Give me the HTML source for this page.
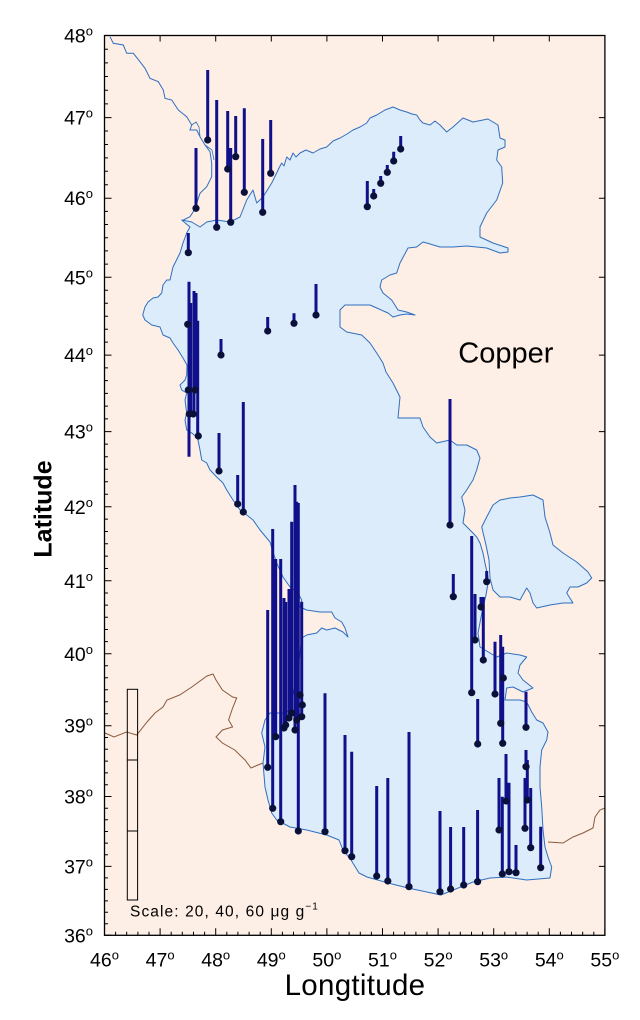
<!DOCTYPE html>
<html><head><meta charset="utf-8">
<style>
html,body{margin:0;padding:0;background:#fff;}
svg{display:block;}
text{font-family:"Liberation Sans",sans-serif;fill:#000;}
</style></head>
<body>
<svg width="640" height="1020" viewBox="0 0 640 1020" xmlns="http://www.w3.org/2000/svg">
<rect x="0" y="0" width="640" height="1020" fill="#fff"/>
<rect x="104.5" y="35.5" width="500.4" height="899.8" fill="#fdeee6"/>

<path fill="#dcecfb" stroke="#2f6fbf" stroke-width="1" stroke-linejoin="round" d="M181.7,220 L191.7,222 L200,227 L206.7,222 L216.7,220 L230,222 L240,217 L246.7,200 L253,190 L256.7,203 L263,197 L271.7,183 L276.7,173 L279,168 L281.7,163 L284,166 L286.7,157 L290,160 L293,153 L296,157 L300,153 L306,150 L313,153 L320,149 L326.7,147 L333,141 L340,138 L347,134 L353,130 L360,127 L366.7,123 L370,118 L376.7,115 L385,110 L393,107 L400,110 L406.7,112 L412,114 L416.7,115 L420,120 L423,123 L430,125 L435,121 L440,125 L446.7,132 L453,127 L463,118 L473,122 L488,119 L498,125 L500,138 L505,140 L505,147 L498,150 L496.7,160 L501.7,167 L502.7,183 L496.7,200 L486.7,213 L480,227 L480,237 L493,243 L508,248 L508,252 L500,253 L486.7,248 L466.7,246 L453,247 L440,247 L426.7,243 L423,242 L416.7,247 L408,248 L400,263 L396.7,273 L390,275 L381.7,280 L380,287 L383,293 L391.7,300 L398,310 L406.7,312 L415,315 L406.7,314 L400,315 L393,317 L388,313 L376.7,308 L370,305 L356.7,305 L345,305 L340,310 L340,327 L346.7,332 L361.7,335 L370,343 L376.7,353 L383,363 L386,372 L393,383 L400,397 L398,418 L410,418 L420,418 L423,427 L430,437 L436.7,443 L450,440 L456.7,445 L466.7,445 L476.7,450 L480,458 L476.7,470 L473,480 L466.7,490 L461.7,497 L465,510 L463,523 L470,530 L476.7,537 L480,543 L483,553 L485,563 L488,577 L488,583 L486,595 L484,603 L483,607 L478,633 L480,647 L496.7,657 L506.7,653 L520,655 L526.7,657 L520,665 L518,673 L523,680 L533,688 L523,692 L513,687 L506.7,688 L505,700 L520,700 L526.7,702 L531.7,712 L536.7,720 L543,723 L548,732 L546.7,740 L541.7,750 L540,767 L540,787 L541.7,807 L543,830 L545,847 L548,857 L551.7,867 L550,878 L526.7,880 L506.7,877 L490,878 L473,882 L441,895 L408,888 L388,883 L367,877 L359,873 L351,860 L343,850 L339,840 L326.7,835 L306.7,830 L290,827 L276.7,820 L271.7,813 L268,800 L265,787 L263,763 L265,747 L261.7,733 L265,720 L270,713 L276.7,713 L283,713 L290,710 L293,693 L296.7,677 L300,653 L301.7,638 L306.7,635 L316.7,633 L321.7,628 L326.7,630 L335,628 L343,632 L348,637 L345,628 L341.7,622 L335,618 L331.7,612 L320,612 L306.7,610 L300,607 L301.7,600 L298,593 L290,587 L283,577 L276.7,563 L273,552 L270,542 L260,530 L253,520 L243,512 L240,510 L233,500 L226.7,490 L223,483 L216.7,477 L210,470 L206.7,463 L201.7,460 L200,450 L198,440 L196.7,437 L191.7,433 L186.7,430 L185,420 L186.7,413 L185,400 L186.7,393 L181.7,390 L180,385 L185,380 L186.7,375 L187,365 L183,358 L178,350 L173,343 L170,338 L163,335 L160,327 L151.7,325 L145,320 L142.7,315 L145,307 L148,302 L153,298 L158,297 L161.7,293 L163,285 L166.7,280 L170,280 L173,267 L180,253 L183,243 L186.7,233 L190,227 Z"/>
<path fill="#dcecfb" stroke="#2f6fbf" stroke-width="1" stroke-linejoin="round" d="M481.7,527 L486.7,517 L493,505 L500,500 L510,498 L520,497 L533,495 L543,500 L545,517 L550,533 L553,545 L563,553 L576.7,562 L588,572 L591.7,578 L586.7,583 L578,587 L570,587 L566.7,593 L573,603 L563,603 L550,605 L536.7,608 L533,603 L530,593 L526.7,588 L520,600 L510,597 L500,597 L493,590 L490,578 L489,560 L486,545 Z"/>

<path fill="none" stroke="#2f6fbf" stroke-width="1" d="M110,36.7 L113.3,43.3 L123.3,45 L126.7,53.3 L133.3,53.3 L140,61.7 L145,68.3 L150,78.3 L158.3,81.7 L163.3,90 L165,98.3 L171.7,100 L178.3,110 L186.7,116.7 L191.7,125 L190,130 L196.7,130 L200,136.7 L205,145 L210,151.7 L211.7,163.3 L211.7,176.7 L206.7,186.7 L200,193.3 L196.7,203.3 L193.3,211.7 L190,216.7 L183.3,220"/>
<path fill="none" stroke="#2f6fbf" stroke-width="0.8" d="M191.7,125 L196,122 L199,127 L200,136.7 M205,145 L212,150 L214,160"/>

<path fill="none" stroke="#8b5a3c" stroke-width="1" d="M105,733 L114,737 L126.5,732 L136.7,735 L147,722 L155,713 L163,707 L167,700 L179.6,695 L191.8,687 L200,681 L207,676 L213,674 L216,680 L222.4,690 L232.6,697 L236.7,698 L232.6,708 L228.6,720 L232.6,727 L222.4,730 L216,737 L222.4,743 L234.7,750 L245,760 L251,768 L258,765 L263,763"/>
<path fill="none" stroke="#8b5a3c" stroke-width="1" d="M548,842 L563,843 L573,837 L583,833 L593,828 L595,817 L600,810 L605,808"/>

<rect x="127.3" y="689.3" width="10.3" height="210.7" fill="none" stroke="#000" stroke-width="1"/>
<path d="M127.3,760 H137.6 M127.3,831 H137.6" stroke="#000" stroke-width="1"/>
<text x="130" y="916.7" font-size="15.5" letter-spacing="1.1">Scale: 20, 40, 60 μg g<tspan dy="-7" font-size="10">−1</tspan></text>

<path fill="none" stroke="#10108a" stroke-width="3" d="
M207.7,70V140 M216.7,100V227.3 M227.7,111V169 M235.7,116V156.7 M244.3,108.3V192.3 M230.7,148V222.3 M262.7,139V212.3 M270.7,120V173.3 M196,148V208.3 M188.3,233V252.7
M400.7,136V149 M393.7,151.7V161 M387.3,165V172.3 M380.7,176V183.3 M373.7,189V196 M367.3,181V206.7
M316,284V315 M294,313.3V323.3 M267.7,317V331 M221,339V355
M189,281.7V456.7 M190.7,303V413 M194,291V413 M196,293V390 M197.7,320.7V436
M219,433V471 M237.7,475V504 M243.3,402V512
M267.7,610V767.3 M272.7,529V808.3 M275.7,559V736.7 M280.7,559V821.7 M284,598V728 M285.7,602V725 M289,589V718 M291.7,521.7V713 M295,485V730 M296.7,501.7V720 M298.3,503V831 M301.7,601.7V716.7
M325,693.3V831.7 M345,735V850.7 M351.7,751.7V856.7 M376.7,786V876 M387.8,778V881 M409,732V886.7 M440,811V891.7 M450.6,827V889 M463.7,827V885 M477.6,810V881.7
M450,399V525 M453.3,574V596.7 M471.7,536V692.7 M475,594V640 M481,597V607 M483.3,597V660 M486.7,571V581.7 M495,641.7V694 M500.7,635V723.3 M502.7,646.7V743.3 M477.7,699V744 M526,691.7V727.3 M526,750V766.7 M527.3,760V800 M525,778V828.3 M530.7,788V847.7 M540.7,826.7V867.7 M506,754V801 M509,782.7V871.7 M499,778V830 M502.3,796.7V874 M516,845V872.7"/>
<g fill="#0b103a">
<circle cx="207.7" cy="140" r="3.6"/><circle cx="216.7" cy="227.3" r="3.6"/><circle cx="227.7" cy="169" r="3.6"/><circle cx="235.7" cy="156.7" r="3.6"/><circle cx="244.3" cy="192.3" r="3.6"/><circle cx="230.7" cy="222.3" r="3.6"/><circle cx="262.7" cy="212.3" r="3.6"/><circle cx="270.7" cy="173.3" r="3.6"/><circle cx="196" cy="208.3" r="3.6"/><circle cx="188.3" cy="252.7" r="3.6"/>
<circle cx="400.7" cy="149" r="3.6"/><circle cx="393.7" cy="161" r="3.6"/><circle cx="387.3" cy="172.3" r="3.6"/><circle cx="380.7" cy="183.3" r="3.6"/><circle cx="373.7" cy="196" r="3.6"/><circle cx="367.3" cy="206.7" r="3.6"/>
<circle cx="316" cy="315" r="3.6"/><circle cx="294" cy="323.3" r="3.6"/><circle cx="267.7" cy="331" r="3.6"/><circle cx="221" cy="355" r="3.6"/>
<circle cx="187.7" cy="324.3" r="3.6"/><circle cx="189.3" cy="414" r="3.6"/><circle cx="193.3" cy="414" r="3.6"/><circle cx="195" cy="390" r="3.6"/><circle cx="188.3" cy="390" r="3.6"/><circle cx="198.3" cy="436" r="3.6"/>
<circle cx="219" cy="471" r="3.6"/><circle cx="237.7" cy="504" r="3.6"/><circle cx="243.3" cy="512" r="3.6"/>
<circle cx="267.7" cy="767.3" r="3.6"/><circle cx="272.7" cy="808.3" r="3.6"/><circle cx="275.7" cy="736.7" r="3.6"/><circle cx="280.7" cy="821.7" r="3.6"/><circle cx="284" cy="728" r="3.6"/><circle cx="285.7" cy="725" r="3.6"/><circle cx="289" cy="718" r="3.6"/><circle cx="291.7" cy="713" r="3.6"/><circle cx="295" cy="730" r="3.6"/><circle cx="296.7" cy="720" r="3.6"/><circle cx="298.3" cy="831" r="3.6"/><circle cx="301.7" cy="716.7" r="3.6"/><circle cx="302.3" cy="705" r="3.6"/><circle cx="300" cy="695" r="3.6"/>
<circle cx="325" cy="831.7" r="3.6"/><circle cx="345" cy="850.7" r="3.6"/><circle cx="351.7" cy="856.7" r="3.6"/><circle cx="376.7" cy="876" r="3.6"/><circle cx="387.8" cy="881" r="3.6"/><circle cx="409" cy="886.7" r="3.6"/><circle cx="440" cy="891.7" r="3.6"/><circle cx="450.6" cy="889" r="3.6"/><circle cx="463.7" cy="885" r="3.6"/><circle cx="477.6" cy="881.7" r="3.6"/>
<circle cx="450" cy="525" r="3.6"/><circle cx="453.3" cy="596.7" r="3.6"/><circle cx="471.7" cy="692.7" r="3.6"/><circle cx="475" cy="640" r="3.6"/><circle cx="481" cy="607" r="3.6"/><circle cx="483.3" cy="660" r="3.6"/><circle cx="486.7" cy="581.7" r="3.6"/><circle cx="495" cy="694" r="3.6"/><circle cx="500.7" cy="723.3" r="3.6"/><circle cx="502.7" cy="743.3" r="3.6"/><circle cx="503.3" cy="678" r="3.6"/><circle cx="477.7" cy="744" r="3.6"/><circle cx="526" cy="727.3" r="3.6"/><circle cx="526" cy="766.7" r="3.6"/><circle cx="527.3" cy="800" r="3.6"/><circle cx="525" cy="828.3" r="3.6"/><circle cx="530.7" cy="847.7" r="3.6"/><circle cx="540.7" cy="867.7" r="3.6"/><circle cx="506" cy="801" r="3.6"/><circle cx="509" cy="871.7" r="3.6"/><circle cx="499" cy="830" r="3.6"/><circle cx="502.3" cy="874" r="3.6"/><circle cx="516" cy="872.7" r="3.6"/>
</g>

<rect x="104.5" y="35.5" width="500.4" height="899.8" fill="none" stroke="#000" stroke-width="1.3"/>

<path stroke="#000" stroke-width="1" fill="none" d="
M104.5,935.3v-7 M160.1,935.3v-7 M215.7,935.3v-7 M271.3,935.3v-7 M326.9,935.3v-7 M382.5,935.3v-7 M438.1,935.3v-7 M493.7,935.3v-7 M549.3,935.3v-7 M604.9,935.3v-7
M115.6,935.3v-3.5 M126.7,935.3v-3.5 M137.9,935.3v-3.5 M149,935.3v-3.5 M171.2,935.3v-3.5 M182.3,935.3v-3.5 M193.5,935.3v-3.5 M204.6,935.3v-3.5 M226.8,935.3v-3.5 M237.9,935.3v-3.5 M249.1,935.3v-3.5 M260.2,935.3v-3.5 M282.4,935.3v-3.5 M293.5,935.3v-3.5 M304.7,935.3v-3.5 M315.8,935.3v-3.5 M338,935.3v-3.5 M349.1,935.3v-3.5 M360.3,935.3v-3.5 M371.4,935.3v-3.5 M393.6,935.3v-3.5 M404.7,935.3v-3.5 M415.9,935.3v-3.5 M427,935.3v-3.5 M449.2,935.3v-3.5 M460.3,935.3v-3.5 M471.5,935.3v-3.5 M482.6,935.3v-3.5 M504.8,935.3v-3.5 M515.9,935.3v-3.5 M527.1,935.3v-3.5 M538.2,935.3v-3.5 M560.4,935.3v-3.5 M571.5,935.3v-3.5 M582.7,935.3v-3.5 M593.8,935.3v-3.5
M160.1,35.5v6 M215.7,35.5v6 M271.3,35.5v6 M326.9,35.5v6 M382.5,35.5v6 M438.1,35.5v6 M493.7,35.5v6 M549.3,35.5v6
"/>
<path stroke="#000" stroke-width="1" fill="none" d="
M104.5,935.3h7 M104.5,866.4h7 M104.5,796.5h7 M104.5,725.7h7 M104.5,653.8h7 M104.5,580.8h7 M104.5,506.8h7 M104.5,431.6h7 M104.5,355.1h7 M104.5,277.3h7 M104.5,198.2h7 M104.5,117.6h7
M104.5,923.8h3.5 M104.5,912.3h3.5 M104.5,900.9h3.5 M104.5,889.4h3.5 M104.5,877.9h3.5
M104.5,854.8h3.5 M104.5,843.1h3.5 M104.5,831.5h3.5 M104.5,819.8h3.5 M104.5,808.2h3.5
M104.5,784.7h3.5 M104.5,772.9h3.5 M104.5,761.1h3.5 M104.5,749.3h3.5 M104.5,737.5h3.5
M104.5,713.7h3.5 M104.5,701.8h3.5 M104.5,689.8h3.5 M104.5,677.8h3.5 M104.5,665.8h3.5
M104.5,641.6h3.5 M104.5,629.5h3.5 M104.5,617.3h3.5 M104.5,605.1h3.5 M104.5,593h3.5
M104.5,568.5h3.5 M104.5,556.1h3.5 M104.5,543.8h3.5 M104.5,531.5h3.5 M104.5,519.1h3.5
M104.5,494.3h3.5 M104.5,481.7h3.5 M104.5,469.2h3.5 M104.5,456.7h3.5 M104.5,444.1h3.5
M104.5,418.9h3.5 M104.5,406.1h3.5 M104.5,393.4h3.5 M104.5,380.6h3.5 M104.5,367.9h3.5
M104.5,342.1h3.5 M104.5,329.2h3.5 M104.5,316.2h3.5 M104.5,303.2h3.5 M104.5,290.3h3.5
M104.5,264.1h3.5 M104.5,250.9h3.5 M104.5,237.7h3.5 M104.5,224.5h3.5 M104.5,211.4h3.5
M104.5,184.8h3.5 M104.5,171.3h3.5 M104.5,157.9h3.5 M104.5,144.5h3.5 M104.5,131h3.5
M104.5,103.9h3.5 M104.5,90.2h3.5 M104.5,76.5h3.5 M104.5,62.9h3.5 M104.5,49.2h3.5
M604.9,866.4h-6 M604.9,796.5h-6 M604.9,725.7h-6 M604.9,653.8h-6 M604.9,580.8h-6 M604.9,506.8h-6 M604.9,431.6h-6 M604.9,355.1h-6 M604.9,277.3h-6 M604.9,198.2h-6 M604.9,117.6h-6
"/>

<g font-size="19.5" text-anchor="end">
<text x="93" y="942.3">36<tspan dy="-7" font-size="13">o</tspan></text>
<text x="93" y="873.4">37<tspan dy="-7" font-size="13">o</tspan></text>
<text x="93" y="803.5">38<tspan dy="-7" font-size="13">o</tspan></text>
<text x="93" y="732.7">39<tspan dy="-7" font-size="13">o</tspan></text>
<text x="93" y="660.8">40<tspan dy="-7" font-size="13">o</tspan></text>
<text x="93" y="587.8">41<tspan dy="-7" font-size="13">o</tspan></text>
<text x="93" y="513.8">42<tspan dy="-7" font-size="13">o</tspan></text>
<text x="93" y="438.6">43<tspan dy="-7" font-size="13">o</tspan></text>
<text x="93" y="362.1">44<tspan dy="-7" font-size="13">o</tspan></text>
<text x="93" y="284.3">45<tspan dy="-7" font-size="13">o</tspan></text>
<text x="93" y="205.2">46<tspan dy="-7" font-size="13">o</tspan></text>
<text x="93" y="124.6">47<tspan dy="-7" font-size="13">o</tspan></text>
<text x="93" y="42.5">48<tspan dy="-7" font-size="13">o</tspan></text>
</g>
<g font-size="19.5" text-anchor="middle">
<text x="104.5" y="966.7">46<tspan dy="-7" font-size="13">o</tspan></text>
<text x="160.1" y="966.7">47<tspan dy="-7" font-size="13">o</tspan></text>
<text x="215.7" y="966.7">48<tspan dy="-7" font-size="13">o</tspan></text>
<text x="271.3" y="966.7">49<tspan dy="-7" font-size="13">o</tspan></text>
<text x="326.9" y="966.7">50<tspan dy="-7" font-size="13">o</tspan></text>
<text x="382.5" y="966.7">51<tspan dy="-7" font-size="13">o</tspan></text>
<text x="438.1" y="966.7">52<tspan dy="-7" font-size="13">o</tspan></text>
<text x="493.7" y="966.7">53<tspan dy="-7" font-size="13">o</tspan></text>
<text x="549.3" y="966.7">54<tspan dy="-7" font-size="13">o</tspan></text>
<text x="604.9" y="966.7">55<tspan dy="-7" font-size="13">o</tspan></text>
</g>

<text x="355" y="995" font-size="29.5" text-anchor="middle" letter-spacing="0.3">Longtitude</text>
<text transform="translate(51.7,509) rotate(-90)" font-size="25" font-weight="bold" text-anchor="middle">Latitude</text>
<text x="458.3" y="362.7" font-size="29">Copper</text>
</svg>
</body></html>
